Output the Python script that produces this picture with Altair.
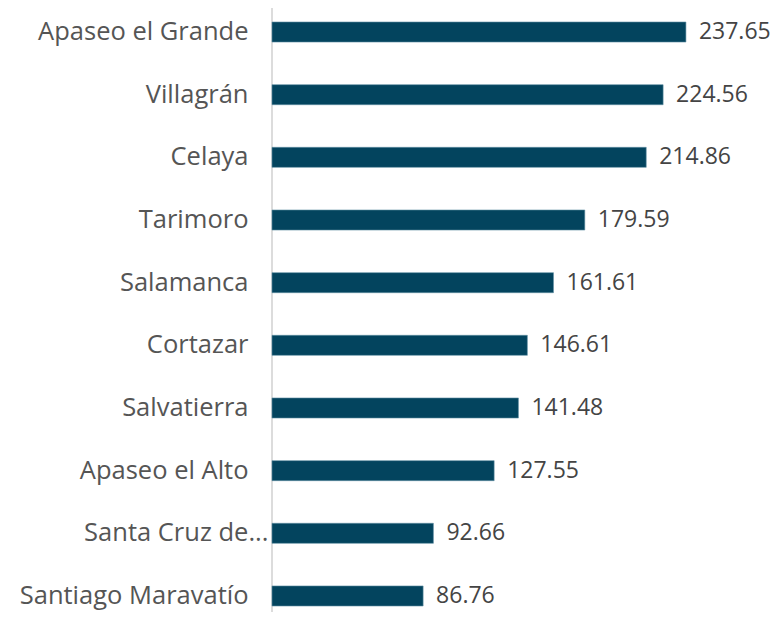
import altair as alt
import pandas as pd

municipios = ["Apaseo el Grande", "Villagrán", "Celaya", "Tarimoro", "Salamanca",
              "Cortazar", "Salvatierra", "Apaseo el Alto",
              "Santa Cruz de Juventino Rosas", "Santiago Maravatío"]
valores = [237.65, 224.56, 214.86, 179.59, 161.61, 146.61, 141.48, 127.55, 92.66, 86.76]

df = pd.DataFrame({"municipio": municipios, "valor": valores})

FONT = "Open Sans"
BAR = "#03445e"

y_enc = alt.Y(
    "municipio:N", sort=None, title=None,
    scale=alt.Scale(range=[14, 598], paddingInner=0.68, paddingOuter=0),
    axis=alt.Axis(
        domain=False, ticks=False, labelFont=FONT, labelFontSize=25.5,
        labelColor="#555555", labelLimit=400,
        labelExpr="length(datum.label) > 20 ? substring(datum.label, 0, 13) + '...' : datum.label",
        labelPadding={"condition": {"test": "length(datum.label) > 20", "value": 4}, "value": 24},
    ),
)
x_enc = alt.X("valor:Q", scale=alt.Scale(domain=[0, 286.5]), axis=None)

bars = alt.Chart(df).mark_bar(color=BAR, stroke="#5f8ea3", strokeWidth=0.6).encode(y=y_enc, x=x_enc)
labels = alt.Chart(df).mark_text(
    align="left", baseline="middle", dx=13, font=FONT, fontSize=23, color="#444444"
).encode(y=y_enc, x=x_enc, text=alt.Text("valor:Q", format=".2f"))

rule = alt.Chart(pd.DataFrame({"a": [0]})).mark_rule(color="#d0d0d0", strokeWidth=1.5).encode(
    x=alt.value(0), y=alt.value(0), y2=alt.value(604)
)

chart = alt.layer(rule, bars, labels).properties(
    width=499, height=604, autosize="none",
    padding={"left": 264, "top": 0, "right": 0, "bottom": 0},
).configure_view(stroke=None)

chart.save("out.html", embed_options={"renderer": "svg", "actions": False})
